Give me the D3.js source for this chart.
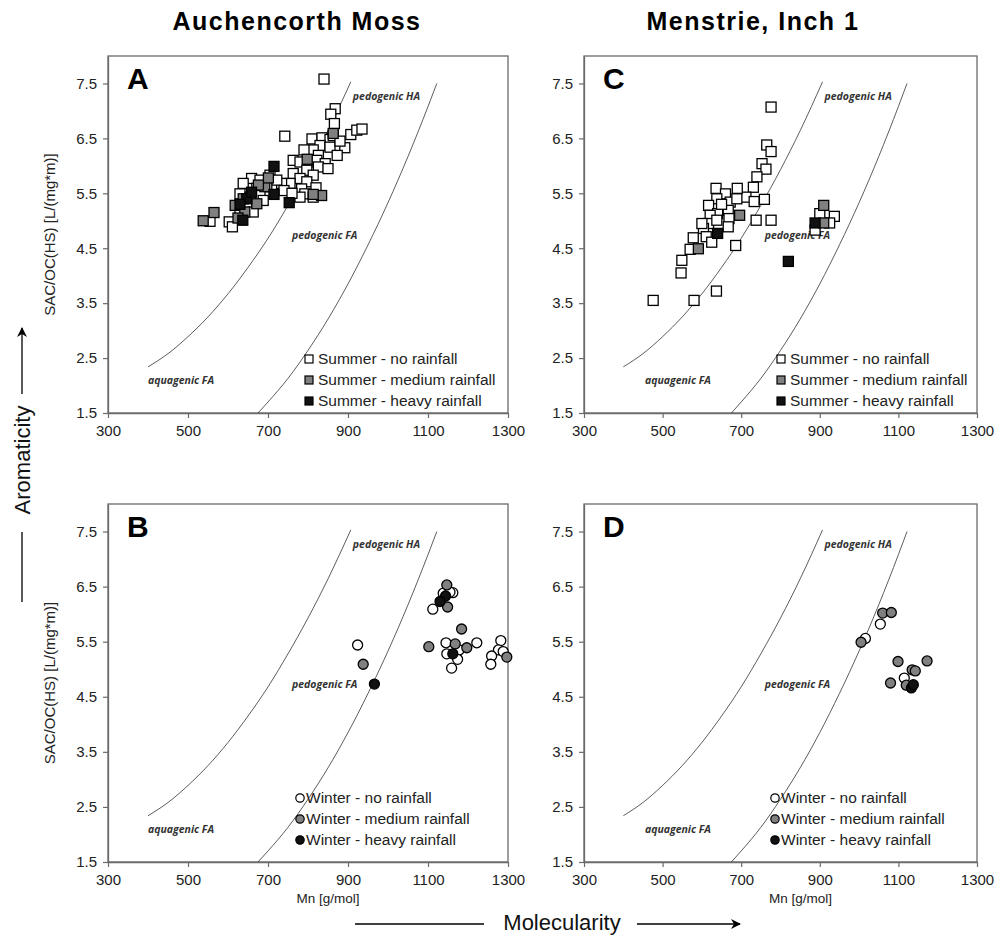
<!DOCTYPE html>
<html><head><meta charset="utf-8">
<script src="https://cdn.jsdelivr.net/npm/d3@7"></script>
<style>body{margin:0;background:#fff;}svg{display:block;font-family:"Liberation Sans",Arial,sans-serif;}</style>
</head><body>
<script>
// ---------- data ----------
const xTicks = [300, 500, 700, 900, 1100, 1300];
const yTicks = [1.5, 2.5, 3.5, 4.5, 5.5, 6.5, 7.5];
const siteTitles = ["Auchencorth Moss", "Menstrie, Inch 1"];
const summerLegend = ["Summer - no rainfall", "Summer - medium rainfall", "Summer - heavy rainfall"];
const winterLegend = ["Winter - no rainfall", "Winter - medium rainfall", "Winter - heavy rainfall"];

// boundary curves (Mn, SAC/OC)
const curveAquaPedo = [[400,2.34],[450,2.58],[500,2.89],[550,3.25],[600,3.67],[650,4.15],[700,4.68],[750,5.28],[800,5.93],[850,6.64],[907,7.53]];
const curvePedoFaHa = [[675,1.5],[700,1.70],[750,2.13],[800,2.64],[850,3.21],[900,3.85],[950,4.56],[1000,5.33],[1050,6.17],[1100,7.08],[1122,7.5]];

// A: Auchencorth Moss, summer
const A_none = [[840,7.58],[868,7.04],[857,6.94],[866,6.77],[907,6.57],[922,6.65],[935,6.67],[742,6.54],[810,6.49],[835,6.51],[855,6.48],[863,6.55],[830,6.37],[813,6.29],[855,6.34],[892,6.33],[790,6.29],[826,6.19],[873,6.19],[763,6.10],[780,6.07],[805,6.07],[822,6.10],[843,6.04],[826,5.98],[797,5.92],[763,5.86],[780,5.77],[813,5.83],[755,5.68],[797,5.71],[784,5.58],[792,5.49],[813,5.43],[780,5.43],[734,5.68],[659,5.77],[638,5.68],[680,5.74],[705,5.83],[722,5.74],[697,5.62],[672,5.59],[630,5.49],[655,5.43],[680,5.46],[647,5.25],[688,5.37],[663,5.16],[630,5.13],[603,4.98],[611,4.89],[555,4.99],[740,5.55],[760,5.50],[820,5.60],[850,5.95],[880,6.45]];
const A_medium = [[538,5.0],[565,5.15],[618,5.28],[638,5.40],[642,5.16],[672,5.31],[692,5.62],[701,5.78],[798,6.12],[863,6.59],[834,5.46],[813,5.48],[676,5.65],[625,5.05]];
const A_heavy = [[715,5.99],[715,5.48],[753,5.33],[637,5.01],[647,5.40],[659,5.52],[630,5.30]];

// C: Menstrie, summer
const C_none = [[776,7.07],[765,6.38],[776,6.26],[753,6.04],[763,5.94],[740,5.80],[731,5.61],[712,5.43],[690,5.59],[636,5.59],[660,5.49],[638,5.40],[617,5.28],[672,5.34],[689,5.40],[733,5.35],[759,5.39],[640,5.13],[667,5.19],[621,5.10],[738,5.01],[776,5.01],[617,4.95],[638,5.01],[669,5.04],[667,4.89],[604,4.86],[611,4.71],[578,4.69],[625,4.61],[686,4.55],[570,4.48],[549,4.28],[547,4.05],[476,3.55],[580,3.55],[637,3.72],[900,5.13],[937,5.08],[925,4.96],[888,4.83],[650,5.30],[600,4.95]];
const C_medium = [[696,5.10],[591,4.49],[910,5.28],[910,4.96]];
const C_heavy = [[640,4.77],[888,4.96],[820,4.26]];

// B: Auchencorth Moss, winter
const B_none = [[924,5.44],[1138,6.38],[1162,6.39],[1155,6.40],[1112,6.09],[1145,5.48],[1222,5.48],[1147,5.28],[1178,5.35],[1174,5.18],[1159,5.02],[1282,5.52],[1276,5.35],[1288,5.32],[1259,5.24],[1257,5.09]];
const B_medium = [[938,5.09],[1147,6.53],[1149,6.13],[1184,5.73],[1102,5.41],[1168,5.46],[1197,5.39],[1297,5.22]];
const B_heavy = [[966,4.73],[1144,6.33],[1130,6.23],[1162,5.28]];

// D: Menstrie, winter
const D_none = [[1054,5.82],[1016,5.56],[1115,4.84]];
const D_medium = [[1060,6.02],[1082,6.03],[1005,5.49],[1099,5.14],[1173,5.15],[1135,4.99],[1143,4.97],[1080,4.75],[1120,4.71]];
const D_heavy = [[1133,4.66],[1138,4.72]];

// ---------- drawing ----------
const fills = ["#ffffff", "#808080", "#111111"];
const W = 997, H = 937;
const svg = d3.select("body").append("svg").attr("width", W).attr("height", H);

const panels = [
  {id:"A", x0:108, x1:508, y0:56,  y1:413, shape:"sq", series:[A_none,A_medium,A_heavy], legend:summerLegend, legY:[359,380,401], legX:309, aqua:400, left:true},
  {id:"C", x0:584, x1:977, y0:56,  y1:413, shape:"sq", series:[C_none,C_medium,C_heavy], legend:summerLegend, legY:[359,380,401], legX:781, aqua:455, left:false},
  {id:"B", x0:108, x1:508, y0:504, y1:862, shape:"ci", series:[B_none,B_medium,B_heavy], legend:winterLegend, legY:[798,819,840], legX:300, aqua:400, left:true, mn:true},
  {id:"D", x0:584, x1:977, y0:504, y1:862, shape:"ci", series:[D_none,D_medium,D_heavy], legend:winterLegend, legY:[798,819,840], legX:775, aqua:455, left:false, mn:true}
];

panels.forEach(p => {
  const xs = d3.scaleLinear().domain([300,1300]).range([p.x0,p.x1]);
  const ys = d3.scaleLinear().domain([1.5,8]).range([p.y1,p.y0]);
  const g = svg.append("g");

  // frame
  g.append("rect").attr("x",p.x0).attr("y",p.y0).attr("width",p.x1-p.x0).attr("height",p.y1-p.y0)
    .attr("fill","none").attr("stroke","#6a6a6a").attr("stroke-width",1.3);

  // axes
  const ax = g.append("g").attr("transform",`translate(0,${p.y1})`)
    .call(d3.axisBottom(xs).tickValues(xTicks).tickSize(5).tickSizeOuter(0).tickPadding(7).tickFormat(d3.format("d")));
  const ay = g.append("g").attr("transform",`translate(${p.x0},0)`)
    .call(d3.axisLeft(ys).tickValues(yTicks).tickSize(5).tickSizeOuter(0).tickPadding(6).tickFormat(d3.format(".1f")));
  [ax,ay].forEach(a => {
    a.select(".domain").attr("stroke","#6a6a6a").attr("stroke-width",1.3);
    a.selectAll(".tick line").attr("stroke","#6a6a6a").attr("stroke-width",1.2);
    a.selectAll(".tick text").attr("font-size",15).attr("fill","#222").attr("font-family","Liberation Sans, Arial, sans-serif");
  });

  // curves
  const line = d3.line().x(d=>xs(d[0])).y(d=>ys(d[1])).curve(d3.curveMonotoneX);
  [curveAquaPedo, curvePedoFaHa].forEach(c => {
    g.append("path").attr("d", line(c)).attr("fill","none").attr("stroke","#333").attr("stroke-width",0.8);
  });
  const lab = (t,x,y) => g.append("text").attr("x",xs(x)).attr("y",ys(y)).text(t)
      .attr("font-size",10.5).attr("font-style","italic").attr("font-weight","bold").attr("fill","#333")
      .attr("font-family","Open Sans, DejaVu Sans, sans-serif");
  lab("pedogenic HA", 912, 7.2);
  lab("pedogenic FA", 760, 4.66);
  lab("aquagenic FA", p.aqua, 2.02);

  // points
  p.series.forEach((s,i) => {
    if (p.shape === "sq") {
      g.append("g").selectAll("rect").data(s).join("rect")
        .attr("x",d=>xs(d[0])-5).attr("y",d=>ys(d[1])-5).attr("width",10).attr("height",10)
        .attr("fill",fills[i]).attr("stroke","#000").attr("stroke-width",1.3);
    } else {
      g.append("g").selectAll("circle").data(s).join("circle")
        .attr("cx",d=>xs(d[0])).attr("cy",d=>ys(d[1])).attr("r",5)
        .attr("fill",fills[i]).attr("stroke","#000").attr("stroke-width",1.3);
    }
  });

  // legend
  p.legend.forEach((t,i) => {
    const cy = p.legY[i];
    if (p.shape === "sq") {
      g.append("rect").attr("x",p.legX-4).attr("y",cy-4).attr("width",8).attr("height",8)
        .attr("fill",fills[i]).attr("stroke","#000").attr("stroke-width",1.2);
    } else {
      g.append("circle").attr("cx",p.legX).attr("cy",cy).attr("r",4.2)
        .attr("fill",fills[i]).attr("stroke","#000").attr("stroke-width",1.2);
    }
    g.append("text").attr("x",p.legX+ (p.shape==="sq"?9:6)).attr("y",cy+5).text(t)
      .attr("font-size",15.5).attr("fill","#222");
  });

  // panel letter
  g.append("text").attr("x",p.x0+19).attr("y",p.y0+33).text(p.id)
    .attr("font-size",30).attr("font-weight","bold").attr("fill","#000");

  if (p.left) {
    g.append("text").attr("transform",`translate(55,${(p.y0+p.y1)/2}) rotate(-90)`)
      .attr("text-anchor","middle").attr("font-size",15).attr("fill","#222").text("SAC/OC(HS) [L/(mg*m)]");
  }
  if (p.mn) {
    g.append("text").attr("x",(p.x0+p.x1)/2+20).attr("y",p.y1+41).attr("text-anchor","middle")
      .attr("font-size",13.5).attr("fill","#222").text("Mn [g/mol]");
  }
});

// column titles
[[297, siteTitles[0]],[753, siteTitles[1]]].forEach(([x,t]) => {
  svg.append("text").attr("x",x).attr("y",30).attr("text-anchor","middle")
    .attr("font-size",25).attr("font-weight","bold").attr("letter-spacing",1.5).attr("fill","#000").text(t);
});

// arrows
const defs = svg.append("defs");
defs.append("marker").attr("id","arr").attr("viewBox","0 0 10 10").attr("refX",9).attr("refY",5)
  .attr("markerWidth",12).attr("markerHeight",10).attr("markerUnits","userSpaceOnUse").attr("orient","auto")
  .append("path").attr("d","M0,0 L10,5 L0,10 L3,5 Z").attr("fill","#000");

svg.append("text").attr("transform","translate(30,460) rotate(-90)").attr("text-anchor","middle")
  .attr("font-size",22).attr("fill","#111").text("Aromaticity");
svg.append("line").attr("x1",22).attr("x2",22).attr("y1",394).attr("y2",328).attr("stroke","#000").attr("stroke-width",1.3).attr("marker-end","url(#arr)");
svg.append("line").attr("x1",22).attr("x2",22).attr("y1",532).attr("y2",602).attr("stroke","#000").attr("stroke-width",1.3);

svg.append("text").attr("x",562).attr("y",930).attr("text-anchor","middle")
  .attr("font-size",22).attr("fill","#111").text("Molecularity");
svg.append("line").attr("x1",355).attr("x2",484).attr("y1",924).attr("y2",924).attr("stroke","#000").attr("stroke-width",1.3);
svg.append("line").attr("x1",637).attr("x2",740).attr("y1",924).attr("y2",924).attr("stroke","#000").attr("stroke-width",1.3).attr("marker-end","url(#arr)");
</script>
</body></html>
